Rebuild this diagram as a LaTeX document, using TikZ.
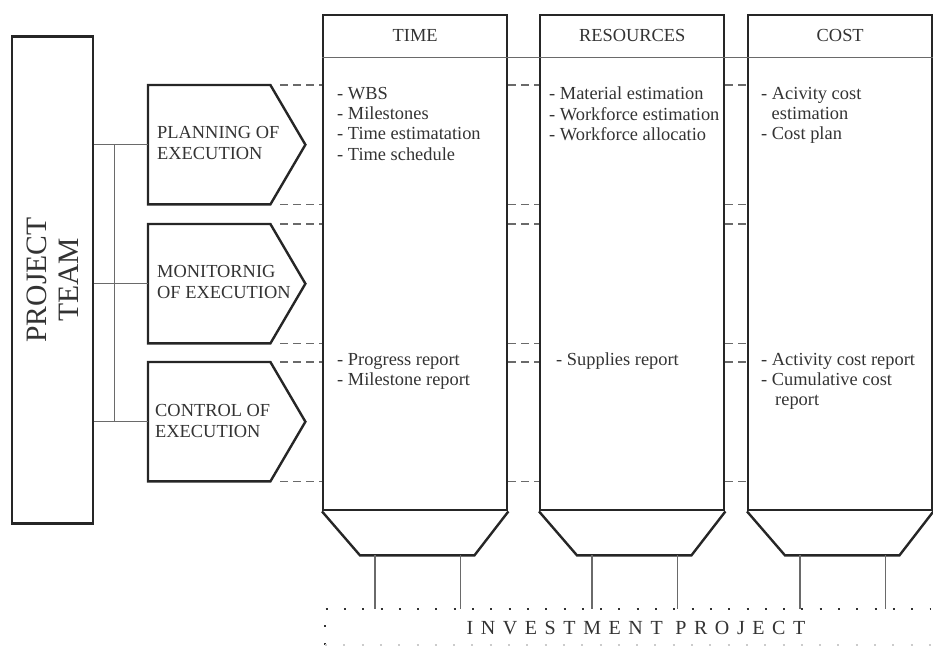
\documentclass[tikz,border=0pt]{standalone}
\usepackage{fontspec}
\setmainfont{Liberation Serif}
\usepackage{xcolor}
\usetikzlibrary{positioning, calc}
\definecolor{txtGray}{HTML}{333333}
\definecolor{lineGray}{HTML}{6A6A6A}
\newcommand{\itemfont}{\fontsize{18.4}{20.3}\selectfont}
\newcommand{\stagefont}{\fontsize{18.4}{21}\selectfont}
\newcommand{\teamfont}{\fontsize{29.6}{32}\selectfont}
\newcommand{\investfont}{\fontsize{20}{22}\selectfont\addfontfeature{LetterSpace=38}}

\begin{document}
\begin{tikzpicture}[x=1pt, y=-1pt, line join=miter]
  \tikzstyle{box}=[draw=black!85, line width=2.4pt]
  \tikzstyle{team}=[box, rectangle, rotate=90, minimum width=487pt, minimum height=81pt, align=center, font=\teamfont, text=txtGray]
  \tikzstyle{stage}=[rectangle, minimum width=122pt, minimum height=119pt, anchor=north west, inner sep=0pt]
  \tikzstyle{stage text}=[anchor=west, align=left, inner sep=0pt, font=\stagefont, text=txtGray]
  \tikzstyle{column}=[box, rectangle, minimum width=184pt, minimum height=495pt, anchor=north west, inner sep=0pt]
  \tikzstyle{head}=[inner sep=0pt, font=\itemfont, text=txtGray]
  \tikzstyle{items}=[anchor=north west, align=left, inner sep=0pt, font=\itemfont, text=txtGray]
  \tikzstyle{link}=[draw=lineGray, line width=0.9pt]
  \tikzstyle{dashline}=[draw=lineGray, line width=1.2pt, dash pattern=on 8pt off 5pt]
  \tikzstyle{leg}=[draw=lineGray, line width=1.1pt]
  \tikzstyle{dots}=[draw=black!80, line width=2pt, dash pattern=on 2pt off 16.3pt]
  \tikzstyle{invest}=[inner sep=0pt, font=\investfont, text=txtGray]

  \useasboundingbox (0,0) rectangle (933,650);

  % Project team
  \node[team] (team) at (52.5,280) {PROJECT\\TEAM};

  % Stages of execution
  \node[stage] (plan) at (148,85) {};
  \node[stage] (mon) at (148,224) {};
  \node[stage] (ctrl) at (148,362) {};
  \foreach \s in {plan, mon, ctrl}
    \draw[box] (\s.north west) -- (\s.north east) -- ($(\s.east)+(35,0)$)
      -- (\s.south east) -- (\s.south west) -- cycle;
  \node[stage text] (plan-txt) at ($(plan.west)+(9,-2)$) {PLANNING OF\\EXECUTION};
  \node[stage text] (mon-txt) at ($(mon.west)+(9,-2)$) {MONITORNIG\\OF EXECUTION};
  \node[stage text] (ctrl-txt) at ($(ctrl.west)+(7,-1)$) {CONTROL OF\\EXECUTION};

  % Connect team -> stages
  \foreach \s in {plan, mon, ctrl}
    \draw[link] (team.south |- \s.west) -- (\s.west);
  \draw[link] ($(team.south |- plan.west)+(20,0)$) -- ($(team.south |- ctrl.west)+(20,0)$);

  % Columns
  \node[column] (time) at (322,14) {};
  \node[column] (res) at (539,14) {};
  \node[column] (cost) at (747,14) {};
  \draw[link] ($(time.north west)+(0,43)$) -- ($(cost.north east)+(2,43)$);
  \node[head] (time-head) at ($(time.north)+(0,21)$) {TIME};
  \node[head] (res-head) at ($(res.north)+(0,21)$) {RESOURCES};
  \node[head] (cost-head) at ($(cost.north)+(0,21)$) {COST};

  % Column bottoms and legs
  \node[invest] (inv) at (636,628) {INVESTMENT PROJECT};
  \coordinate (inv-nw) at (325,609);
  \coordinate (inv-ne) at (931,609);
  \coordinate (inv-sw) at (325,645);
  \coordinate (inv-se) at (931,645);
  \foreach \c in {time, res, cost} {
    \draw[box] (\c.south west) -- ++(38,44) -- ($(\c.south east)+(-34,44)$) -- (\c.south east);
    \coordinate (\c-l) at ($(\c.south west)+(53,44)$);
    \coordinate (\c-r) at ($(\c.south east)+(-48,44)$);
    \draw[leg] (\c-l) -- (\c-l |- inv-nw);
    \draw[leg] (\c-r) -- (\c-r |- inv-nw);
  }
  \draw[dots] (inv-sw) -- (inv-nw) -- (inv-ne);
  \draw[dots, draw=black!20] (inv-sw) -- (inv-se);

  % Dashed levels
  \foreach \s/\a in {plan/north east, plan/south east, mon/north east, mon/south east, ctrl/north east, ctrl/south east} {
    \draw[dashline] ([xshift=10pt]\s.\a) -- (time.west |- \s.\a);
    \draw[dashline] (time.east |- \s.\a) -- (res.west |- \s.\a);
    \draw[dashline] (res.east |- \s.\a) -- (cost.west |- \s.\a);
  }

  % Column items
  \node[items] (time-plan) at (337,87) {- WBS\\- Milestones\\- Time estimatation\\- Time schedule};
  \node[items] (res-plan) at (549,87) {- Material estimation\\- Workforce estimation\\- Workforce allocatio};
  \node[items] (cost-plan) at (761,87) {- Acivity cost\\\hspace{10.5pt}estimation\\- Cost plan};
  \node[items] (time-ctrl) at (337,353) {- Progress report\\- Milestone report};
  \node[items] (res-ctrl) at (556,353) {- Supplies report};
  \node[items] (cost-ctrl) at (761,353) {- Activity cost report\\- Cumulative cost\\\hspace{14pt}report};
\end{tikzpicture}
\end{document}
